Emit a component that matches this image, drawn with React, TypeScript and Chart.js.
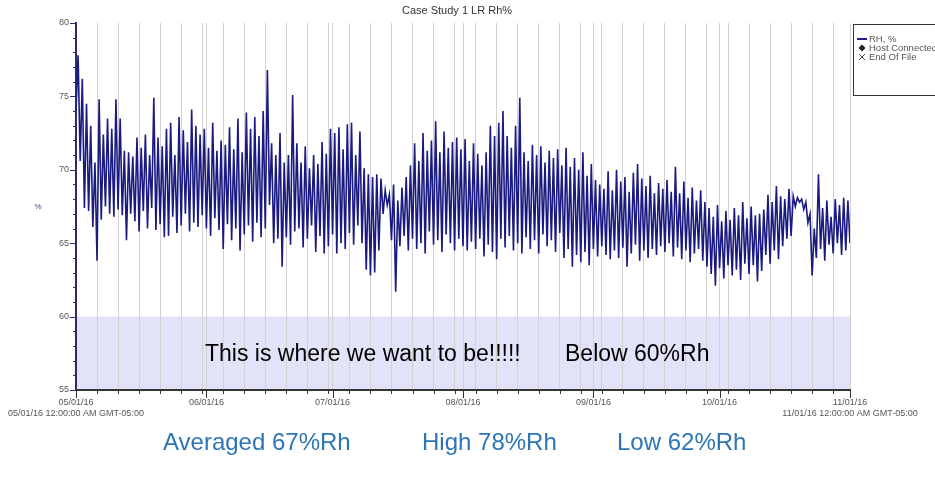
import React, { useEffect, useRef } from "react";
import { Chart, registerables } from "chart.js";

Chart.register(...registerables);

const FONT = "'Liberation Sans', Arial, Helvetica, sans-serif";

const CHART_TITLE = "Case Study 1 LR Rh%";
const Y_TITLE = "%";
const MONTH_DAYS = [0, 31, 61, 92, 123, 153, 184];
const MONTH_LABELS = ["05/01/16", "06/01/16", "07/01/16", "08/01/16", "09/01/16", "10/01/16", "11/01/16"];
const FIRST_STAMP = "05/01/16 12:00:00 AM GMT-05:00";
const LAST_STAMP = "11/01/16 12:00:00 AM GMT-05:00";
const MINOR_TICK_DAYS = 5;
const Y_MIN = 55;
const Y_MAX = 80;
const Y_LABEL_STEP = 5;
const TARGET_LIMIT = 60;
const LEGEND_LABELS = ["RH, %", "Host Connected", "End Of File"];
const BAND_MESSAGE = "This is where we want to be!!!!!";
const BAND_MESSAGE_2 = "Below 60%Rh";
const SUMMARY_LABELS = ["Averaged 67%Rh", "High 78%Rh", "Low 62%Rh"];

// RH % reading at the start of each day (day 0 = 05/01/16 ... day 184 = 11/01/16)
const DAILY_LOW = [
  74.0, 70.6, 67.4, 67.2, 66.1, 63.8, 66.6, 67.5, 67.0, 66.8,
  67.3, 66.9, 65.2, 67.0, 66.5, 65.8, 67.2, 66.0, 67.4, 65.9,
  66.3, 65.4, 65.5, 66.8, 65.7, 66.2, 67.0, 65.8, 66.4, 66.1,
  66.9, 66.0, 65.5, 66.7, 65.9, 64.6, 66.3, 65.2, 66.0, 64.5,
  65.6, 66.2, 65.1, 66.4, 65.4, 66.0, 67.6, 65.0, 65.3, 63.4,
  65.4, 64.9, 65.8, 66.0, 64.7, 65.3, 66.2, 64.4, 65.5, 64.3,
  64.8, 65.6, 64.3, 65.0, 64.6, 65.7, 64.9, 66.2, 65.0, 63.2,
  62.8, 63.0, 64.5, 67.0, 67.6, 65.2, 61.7, 64.8, 65.5, 64.5,
  65.3, 64.6, 65.0, 64.3, 65.8, 64.9, 65.2, 64.4, 65.6, 65.0,
  64.5, 65.3, 64.8, 64.5, 65.1, 64.6, 65.3, 64.1, 64.9, 64.4,
  63.9, 65.3, 64.7, 65.5, 64.5, 65.0, 64.3, 65.4, 64.6, 65.2,
  64.3, 65.6, 64.8, 65.2, 64.4, 65.7, 64.0, 64.6, 63.4, 64.2,
  63.7, 64.4, 63.5, 64.6, 64.1, 64.8, 64.2, 63.9, 64.5, 64.0,
  64.7, 63.4, 64.3, 64.9, 63.8, 64.5, 64.0, 64.6, 64.2, 64.8,
  64.4, 65.0, 64.1, 64.7, 63.9, 64.5, 63.7, 64.3, 64.6, 63.8,
  63.4, 62.9, 62.1, 63.3, 62.6, 63.5, 62.8, 63.2, 62.5, 63.6,
  62.9, 63.5, 62.4, 63.1, 64.2, 63.6, 64.5, 63.9, 64.8, 65.3,
  65.5, 67.5, 67.8, 67.3, 66.4, 62.8, 64.0, 64.6, 63.8, 64.9,
  64.3, 65.0, 64.2, 64.5, 65.0,
];

// RH % reading at midday of each day
const DAILY_HIGH = [
  77.8, 76.2, 74.5, 73.0, 70.5, 74.8, 72.4, 73.5, 72.8, 74.8,
  73.5, 71.3, 71.2, 70.9, 72.2, 71.5, 72.4, 71.0, 74.9, 72.2,
  71.6, 72.8, 73.2, 71.0, 73.6, 72.7, 71.9, 74.1, 73.0, 72.4,
  72.8, 71.5, 73.2, 71.3, 72.0, 71.7, 72.9, 71.4, 73.5, 71.2,
  73.9, 72.8, 73.6, 72.3, 74.0, 76.8, 71.8, 71.0, 72.5, 70.5,
  71.0, 75.1, 71.8, 70.5, 71.6, 70.1, 71.0, 70.4, 71.9, 71.1,
  72.8, 72.5, 72.9, 71.4, 73.1, 73.2, 71.0, 72.6, 70.1, 69.7,
  69.5, 69.7, 69.4, 68.6, 68.3, 69.0, 67.9, 68.8, 69.5, 70.3,
  71.8, 70.6, 72.5, 71.3, 72.0, 73.3, 71.2, 72.6, 71.5, 71.9,
  72.2, 71.4, 72.1, 70.6, 71.8, 71.1, 70.3, 71.2, 73.0, 72.3,
  73.2, 74.0, 72.3, 71.5, 73.0, 74.9, 71.2, 70.6, 71.7, 71.0,
  71.6, 70.5, 71.3, 70.8, 71.4, 70.3, 71.5, 70.2, 70.8, 70.0,
  71.2, 69.6, 70.4, 69.3, 69.0, 68.7, 69.9, 68.6, 70.0, 69.2,
  69.5, 68.5, 69.8, 70.4, 69.4, 68.9, 69.6, 68.4, 69.1, 68.7,
  69.3, 68.5, 70.2, 68.4, 69.2, 68.1, 68.8, 67.9, 68.6, 67.8,
  67.4, 66.8, 67.6, 66.5, 67.2, 66.6, 67.4, 66.9, 67.8, 66.7,
  67.5, 66.9, 67.0, 67.3, 68.3, 67.8, 68.9, 68.2, 68.0, 68.7,
  68.2, 68.1, 68.0, 67.8, 67.0, 66.0, 69.7, 67.4, 67.9, 66.8,
  68.0, 67.6, 68.1, 67.9,
];

function buildSeries() {
  const pts: { x: number; y: number }[] = [];
  for (let d = 0; d < DAILY_LOW.length; d++) {
    pts.push({ x: d, y: DAILY_LOW[d] });
    if (d < DAILY_HIGH.length) pts.push({ x: d + 0.5, y: DAILY_HIGH[d] });
  }
  return pts;
}

const decorPlugin = {
  id: "decor",
  beforeDraw(chart: any) {
    const { ctx, chartArea } = chart;
    const y = chart.scales.y;
    const top = y.getPixelForValue(TARGET_LIMIT);
    const bottom = y.getPixelForValue(Y_MIN);
    ctx.save();
    ctx.fillStyle = "#e2e2f8";
    ctx.fillRect(chartArea.left, top, chartArea.right - chartArea.left, bottom - top);
    ctx.restore();
  },
  afterDraw(chart: any) {
    const { ctx, chartArea } = chart;
    const x = chart.scales.x;
    const y = chart.scales.y;
    ctx.save();
    // x tick marks
    ctx.strokeStyle = "#333";
    ctx.lineWidth = 1;
    x.ticks.forEach((t: any) => {
      const px = Math.round(x.getPixelForValue(t.value)) + 0.5;
      const major = MONTH_DAYS.includes(t.value);
      ctx.beginPath();
      ctx.moveTo(px, chartArea.bottom - 1);
      ctx.lineTo(px, chartArea.bottom + (major ? 8 : 4));
      ctx.stroke();
    });
    // y tick marks
    ctx.strokeStyle = "#2b2b6e";
    for (let v = Y_MIN; v <= Y_MAX; v++) {
      const py = Math.round(y.getPixelForValue(v)) + 0.5;
      const len = v % Y_LABEL_STEP === 0 ? 6 : 3;
      ctx.beginPath();
      ctx.moveTo(chartArea.left - len, py);
      ctx.lineTo(chartArea.left, py);
      ctx.stroke();
    }
    // title
    ctx.fillStyle = "#333";
    ctx.font = `11px ${FONT}`;
    ctx.textAlign = "center";
    ctx.textBaseline = "middle";
    ctx.fillText(CHART_TITLE, 457, 11);
    // y title
    ctx.fillStyle = "#44447a";
    ctx.font = `8px ${FONT}`;
    ctx.fillText(Y_TITLE, 38, (chartArea.top + chartArea.bottom) / 2);
    // legend
    ctx.strokeStyle = "#333";
    ctx.lineWidth = 1;
    ctx.strokeRect(853.5, 24.5, 100, 71);
    const ly = [39, 48, 57];
    ctx.strokeStyle = "#1f1f8f";
    ctx.lineWidth = 2;
    ctx.beginPath();
    ctx.moveTo(857, ly[0]);
    ctx.lineTo(867, ly[0]);
    ctx.stroke();
    ctx.fillStyle = "#222";
    ctx.beginPath();
    ctx.moveTo(862, ly[1] - 3.5);
    ctx.lineTo(865.5, ly[1]);
    ctx.lineTo(862, ly[1] + 3.5);
    ctx.lineTo(858.5, ly[1]);
    ctx.closePath();
    ctx.fill();
    ctx.strokeStyle = "#555";
    ctx.lineWidth = 1;
    ctx.beginPath();
    ctx.moveTo(859, ly[2] - 3);
    ctx.lineTo(865, ly[2] + 3);
    ctx.moveTo(865, ly[2] - 3);
    ctx.lineTo(859, ly[2] + 3);
    ctx.stroke();
    ctx.fillStyle = "#555";
    ctx.font = `9.5px ${FONT}`;
    ctx.textAlign = "left";
    LEGEND_LABELS.forEach((l, i) => ctx.fillText(l, 869, ly[i]));
    // band message
    ctx.fillStyle = "#000";
    ctx.font = `23px ${FONT}`;
    ctx.textBaseline = "middle";
    ctx.fillText(BAND_MESSAGE, 205, 355);
    ctx.fillText(BAND_MESSAGE_2, 565, 355);
    // summary
    ctx.fillStyle = "#2e75b6";
    ctx.font = `24px ${FONT}`;
    const sx = [163, 422, 617];
    SUMMARY_LABELS.forEach((l, i) => ctx.fillText(l, sx[i], 443));
    ctx.restore();
  },
};

export default function App() {
  const ref = useRef<HTMLCanvasElement>(null);
  useEffect(() => {
    if (!ref.current) return;
    const chart = new Chart(ref.current, {
      type: "line",
      data: {
        datasets: [
          {
            label: LEGEND_LABELS[0],
            data: buildSeries(),
            borderColor: "#1a1a80",
            borderWidth: 1.6,
            pointRadius: 0,
            tension: 0,
            fill: false,
          },
        ],
      },
      options: {
        animation: false,
        responsive: true,
        maintainAspectRatio: false,
        layout: { padding: { top: 23, right: 85, left: 0, bottom: 0 } },
        plugins: { legend: { display: false }, title: { display: false }, tooltip: { enabled: false } },
        scales: {
          x: {
            type: "linear",
            min: 0,
            max: MONTH_DAYS[MONTH_DAYS.length - 1],
            afterBuildTicks: (s: any) => {
              const vals = new Set<number>();
              for (let d = 0; d <= s.max; d += MINOR_TICK_DAYS) vals.add(d);
              MONTH_DAYS.forEach((d) => vals.add(d));
              s.ticks = [...vals].sort((a, b) => a - b).map((v) => ({ value: v }));
            },
            afterFit: (s: any) => {
              s.height = 95;
            },
            grid: { display: true, drawOnChartArea: true, drawTicks: false, color: "#d2d2d2", lineWidth: 1 },
            border: { display: true, color: "#333", width: 2 },
            ticks: {
              autoSkip: false,
              maxRotation: 0,
              padding: 7,
              color: "#555",
              font: { family: FONT, size: 9, lineHeight: 1.25 },
              callback: (v: any) => {
                const i = MONTH_DAYS.indexOf(v);
                if (i === 0) return [MONTH_LABELS[0], FIRST_STAMP];
                if (i === MONTH_DAYS.length - 1) return [MONTH_LABELS[i], LAST_STAMP];
                if (i > 0) return MONTH_LABELS[i];
                return "";
              },
            },
          },
          y: {
            min: Y_MIN,
            max: Y_MAX,
            afterBuildTicks: (s: any) => {
              const t = [];
              for (let v = Y_MIN; v <= Y_MAX; v++) t.push({ value: v });
              s.ticks = t;
            },
            afterFit: (s: any) => {
              s.width = 76;
            },
            grid: { display: true, drawOnChartArea: false, drawTicks: false },
            border: { display: true, color: "#2b2b6e", width: 2 },
            ticks: {
              autoSkip: false,
              padding: 7,
              color: "#555",
              font: { family: FONT, size: 9 },
              callback: (v: any) => (v % Y_LABEL_STEP === 0 ? String(v) : ""),
            },
          },
        },
      } as any,
      plugins: [decorPlugin],
    });
    return () => chart.destroy();
  }, []);
  return (
    <div style={{ position: "fixed", left: 0, top: 0, width: 935, height: 485, background: "#fff" }}>
      <canvas ref={ref} />
    </div>
  );
}
